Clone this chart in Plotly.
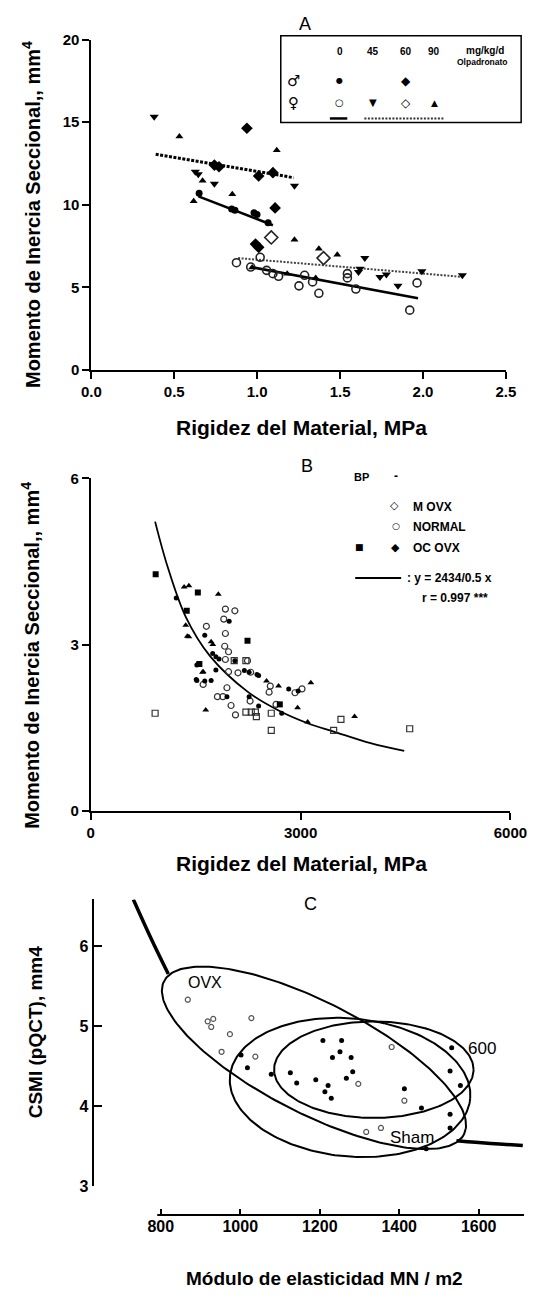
import numpy as np
import plotly.graph_objects as go

W, H = 541, 1299
FONT = "Liberation Sans, Arial, DejaVu Sans, sans-serif"
SYM = "DejaVu Sans"

# ---------------- Panel A data ----------------
A_xticks = [0.0, 0.5, 1.0, 1.5, 2.0, 2.5]
A_yticks = [0, 5, 10, 15, 20]

A_m0_x = [0.65, 0.846, 0.866, 0.981, 0.999, 1.066]
A_m0_y = [10.70, 9.75, 9.67, 9.51, 9.41, 8.91]
A_m60_x = [0.938, 0.742, 0.770, 1.009, 1.095, 1.108, 0.99, 1.009]
A_m60_y = [14.63, 12.40, 12.30, 11.74, 11.94, 9.81, 7.62, 7.42]
A_f0_x = [0.875, 0.961, 1.018, 1.057, 1.095, 1.129, 1.286, 1.252, 1.334, 1.372,
          1.544, 1.544, 1.595, 1.964, 1.920]
A_f0_y = [6.49, 6.23, 6.82, 6.03, 5.83, 5.67, 5.73, 5.09, 5.33, 4.64,
          5.83, 5.57, 4.90, 5.27, 3.62]
A_f45_x = [0.379, 0.627, 0.645, 0.742, 1.225, 1.649, 1.74, 1.779, 1.849, 1.993,
           2.237, 1.62, 1.611]
A_f45_y = [15.33, 12.0, 11.85, 11.27, 11.15, 6.77, 5.63, 5.77, 5.09, 5.97,
           5.73, 6.13, 5.93]
A_f60_x = [1.085, 1.40]
A_f60_y = [8.02, 6.77]
A_f90_x = [0.531, 1.118, 0.671, 0.850, 0.617, 1.225, 1.372, 1.483, 0.97, 1.181, 1.353]
A_f90_y = [14.13, 13.30, 11.46, 10.64, 10.21, 7.88, 7.33, 6.97, 6.2, 5.83, 5.57]

A_fit_m0_x = [0.646, 1.095]
A_fit_m0_y = [10.51, 8.76]
A_fit_m60_x = [0.388, 1.219]
A_fit_m60_y = [13.06, 11.64]
A_fit_f0_x = [0.961, 1.97]
A_fit_f0_y = [6.23, 4.34]
A_fit_ftrt_x = [0.885, 2.241]
A_fit_ftrt_y = [6.77, 5.63]

# ---------------- Panel B data ----------------
B_xticks = [0, 3000, 6000]
B_yticks = [0, 3, 6]

B_ocbp_x = [928, 1531, 1372, 2241, 1553, 2703]
B_ocbp_y = [4.27, 3.94, 3.61, 3.07, 2.65, 1.92]
B_tri_x = [1335, 1403, 1824, 1358, 1381, 1403, 1721, 1745, 1607, 1598, 2513, 2685,
           3147, 2957, 3101, 3772, 1644]
B_tri_y = [4.04, 4.06, 3.91, 3.35, 3.15, 3.14, 3.05, 3.00, 2.51, 2.50, 2.34, 2.25,
           2.31, 1.86, 1.60, 1.70, 1.82]
B_oc_x = [1222, 1979, 1630, 1743, 1789, 1834, 2060, 2377, 1789, 1540, 1517, 1630,
          1721, 2196, 2264, 2400, 1947, 2264, 2400, 2730, 2830, 2965, 1517, 1508]
B_oc_y = [3.84, 3.42, 3.17, 2.84, 2.78, 2.74, 2.71, 2.46, 2.54, 2.65, 2.35, 2.34,
          2.35, 2.53, 2.50, 2.44, 2.06, 2.06, 1.89, 1.76, 2.20, 2.16, 2.63, 2.37]
B_norm_x = [1925, 2060, 1902, 1653, 1925, 1915, 1970, 1925, 2241, 2286, 1970, 2105,
            1607, 1947, 2550, 2567, 1811, 1890, 2006, 2069, 2278, 2920, 3020, 2649]
B_norm_y = [3.64, 3.61, 3.46, 3.33, 3.20, 2.97, 2.87, 2.73, 2.71, 2.50, 2.51, 2.49,
            2.28, 2.22, 2.14, 2.25, 2.06, 2.06, 1.90, 1.73, 1.98, 2.13, 2.20, 1.92]
B_movx_x = [920, 2051, 2218, 2218, 2295, 2354, 2368, 2581, 2581, 3473, 3577, 4560]
B_movx_y = [1.76, 2.71, 2.71, 1.78, 1.78, 1.78, 1.70, 1.76, 1.45, 1.45, 1.65, 1.48]

B_curve_x = [920, 1100, 1358, 1700, 2241, 2700, 3101, 3473, 4000, 4482]
B_curve_y = [5.22, 4.40, 3.50, 2.80, 2.15, 1.80, 1.58, 1.43, 1.22, 1.08]

# ---------------- Panel C data ----------------
C_xticks = [800, 1000, 1200, 1400, 1600]
C_yticks = [3, 4, 5, 6]

C_open_x = [868, 918, 932, 927, 974, 1028, 953, 1038, 1381, 1297, 1413, 1317, 1354]
C_open_y = [5.33, 5.06, 5.09, 4.99, 4.90, 5.10, 4.68, 4.62, 4.74, 4.28, 4.07, 3.68, 3.73]
C_fill_x = [1002, 1018, 1078, 1126, 1142, 1190, 1208, 1255, 1251, 1232, 1279, 1283,
            1267, 1221, 1213, 1229, 1413, 1456, 1532, 1528, 1554, 1528, 1528, 1468]
C_fill_y = [4.64, 4.48, 4.40, 4.42, 4.29, 4.33, 4.82, 4.82, 4.68, 4.61, 4.61, 4.43,
            4.35, 4.26, 4.18, 4.10, 4.22, 3.98, 4.73, 4.44, 4.26, 3.90, 3.73, 3.47]

C_curve_x = [731, 775, 819, None, 1544, 1592, 1652, 1711]
C_curve_y = [6.58, 6.10, 5.65, None, 3.57, 3.55, 3.53, 3.51]

C_ell_name = ["OVX", "Sham", "600"]
C_ell_cx = [1185.5, 1276.3, 1336.1]
C_ell_cy = [4.605, 4.235, 4.457]
C_ell_a = [420.6, 303.5, 251.0]
C_ell_b = [136.0, 167.3, 117.0]
C_ell_ang = [-26.0, -5.0, 0.0]


def px(v):
    return v / W


def py(v):
    return 1 - v / H


fig = go.Figure()


def sc(x, y, ax, **kw):
    fig.add_trace(go.Scatter(x=x, y=y, xaxis="x" + ax, yaxis="y" + ax,
                             showlegend=False, hoverinfo="skip", **kw))


# Panel A
sc(A_fit_m0_x, A_fit_m0_y, "", mode="lines", line=dict(color="black", width=2.5))
sc(A_fit_m60_x, A_fit_m60_y, "", mode="lines", line=dict(color="black", width=3, dash="3px,1.5px"))
sc(A_fit_f0_x, A_fit_f0_y, "", mode="lines", line=dict(color="black", width=2.5))
sc(A_fit_ftrt_x, A_fit_ftrt_y, "", mode="lines", line=dict(color="#444", width=2, dash="2px,1.5px"))
sc(A_m0_x, A_m0_y, "", mode="markers", marker=dict(symbol="circle", size=7, color="black"))
sc(A_m60_x, A_m60_y, "", mode="markers", marker=dict(symbol="diamond", size=9, color="black"))
sc(A_f0_x, A_f0_y, "", mode="markers",
   marker=dict(symbol="circle-open", size=8, color="#222", line=dict(width=1.6)))
sc(A_f45_x, A_f45_y, "", mode="markers", marker=dict(symbol="triangle-down", size=8, color="black"))
sc(A_f60_x, A_f60_y, "", mode="markers",
   marker=dict(symbol="diamond-open", size=10, color="#222", line=dict(width=1.6)))
sc(A_f90_x, A_f90_y, "", mode="markers", marker=dict(symbol="triangle-up", size=7, color="black"))

# Panel B
sc(B_curve_x, B_curve_y, "2", mode="lines", line=dict(color="black", width=1.8, shape="spline"))
sc(B_movx_x, B_movx_y, "2", mode="markers",
   marker=dict(symbol="square-open", size=6, color="#333", line=dict(width=1.2)))
sc(B_norm_x, B_norm_y, "2", mode="markers",
   marker=dict(symbol="circle-open", size=6, color="#333", line=dict(width=1.2)))
sc(B_oc_x, B_oc_y, "2", mode="markers", marker=dict(symbol="circle", size=5, color="black"))
sc(B_tri_x, B_tri_y, "2", mode="markers", marker=dict(symbol="triangle-up", size=6, color="black"))
sc(B_ocbp_x, B_ocbp_y, "2", mode="markers", marker=dict(symbol="square", size=6, color="black"))

# Panel C
sc(C_curve_x, C_curve_y, "3", mode="lines", line=dict(color="black", width=3.5, shape="spline"),
   connectgaps=False)
K = 81.3 / 0.4184
t = np.linspace(0, 2 * np.pi, 241)
for cx, cy, a, b, ang in zip(C_ell_cx, C_ell_cy, C_ell_a, C_ell_b, C_ell_ang):
    r = np.deg2rad(ang)
    X = a * np.cos(t)
    Y = b * np.sin(t)
    ex = cx + X * np.cos(r) - Y * np.sin(r)
    ey = cy + (X * np.sin(r) + Y * np.cos(r)) / K
    sc(ex, ey, "3", mode="lines", line=dict(color="black", width=2))
sc(C_open_x, C_open_y, "3", mode="markers",
   marker=dict(symbol="circle-open", size=5, color="#555", line=dict(width=1.2)))
sc(C_fill_x, C_fill_y, "3", mode="markers", marker=dict(symbol="circle", size=5, color="black"))

tickfont = dict(family=FONT, size=15, color="black", weight="bold")
base = dict(showline=True, linecolor="black", linewidth=2, ticks="outside", ticklen=7,
            tickwidth=2, tickcolor="black", showgrid=False, zeroline=False,
            tickfont=tickfont, fixedrange=True)

layout = dict(
    width=W, height=H, margin=dict(l=0, r=0, t=0, b=0),
    paper_bgcolor="white", plot_bgcolor="rgba(0,0,0,0)", showlegend=False,
    xaxis=dict(base, domain=[px(85.6), px(522)], range=[0, 2.5], anchor="y",
               tickvals=A_xticks, ticktext=["%.1f" % v for v in A_xticks]),
    yaxis=dict(base, domain=[py(366), py(31)], range=[0, 20], anchor="x",
               tickvals=A_yticks),
    xaxis2=dict(base, domain=[px(85), px(526.7)], range=[0, 6000], anchor="y2",
                tickvals=B_xticks, ticktext=[str(v) for v in B_xticks]),
    yaxis2=dict(base, domain=[py(813), py(476)], range=[0, 6], anchor="x2",
                tickvals=B_yticks),
    xaxis3=dict(base, domain=[px(88), 1.0], range=[631, 1714], anchor="free",
                position=py(1223), showline=False, ticks="inside", ticklen=6,
                tickvals=C_xticks, tickfont=dict(tickfont, size=16)),
    yaxis3=dict(base, domain=[py(1194), py(903)], range=[3, 6.58], anchor="x3",
                ticks="inside", ticklen=8, tickvals=C_yticks,
                tickfont=dict(tickfont, size=16)),
)


def ann(text, x, y, size, bold=False, xanchor="center", angle=0, color="black", family=FONT):
    return dict(text=text, x=px(x), y=py(y), xref="paper", yref="paper", showarrow=False,
                xanchor=xanchor, yanchor="middle", textangle=angle,
                font=dict(family=family, size=size, color=color,
                          weight="bold" if bold else "normal"))


def sym(text, x, y, size):
    return ann(text, x, y, size, family=SYM)


ytitle = "Momento de Inercia Seccional,, mm<sup>4</sup>"
xtitle = "Rigidez del Material, MPa"
annotations = [
    # Panel A
    ann("A", 310, 15, 18),
    ann(xtitle, 307, 424, 21, bold=True),
    ann(ytitle, 22, 208, 20, bold=True, angle=-90),
    ann("0", 347, 43, 10, bold=True), ann("45", 381.7, 43, 10, bold=True),
    ann("60", 416.7, 43, 10, bold=True), ann("90", 446.7, 43, 10, bold=True),
    ann("mg/kg/d", 500, 42, 10, bold=True), ann("Olpadronato", 497, 53.5, 8.5, bold=True),
    sym("♂", 298, 73, 15), sym("♀", 298, 95, 15),
    sym("●", 347, 73, 8), sym("◆", 416.7, 73, 12),
    sym("○", 347, 95, 10), sym("▼", 381.7, 95, 10), sym("◇", 416.7, 95, 12),
    sym("▲", 446.7, 95, 9),
    # Panel B
    ann("B", 313, 463, 18),
    ann(xtitle, 307, 867, 21, bold=True),
    ann(ytitle, 22, 655, 20, bold=True, angle=-90),
    ann("BP", 370, 475, 11, bold=True), ann("-", 406, 474, 12, bold=True),
    sym("◇", 405, 503, 11), ann("M OVX", 421.7, 505, 12, bold=True, xanchor="left"),
    sym("○", 406, 524, 9), ann("NORMAL", 421.7, 525, 12, bold=True, xanchor="left"),
    sym("■", 368.3, 546, 9), sym("◆", 406, 546, 11),
    ann("OC OVX", 421.7, 547, 12, bold=True, xanchor="left"),
    ann(": y = 2434/0.5 x", 416, 577, 12, bold=True, xanchor="left"),
    ann("r = 0.997 ***", 431.7, 597, 12, bold=True, xanchor="left"),
    # Panel C
    ann("C", 316.7, 908, 18),
    ann("OVX", 205.7, 987, 16), ann("600", 497, 1054, 17), ann("Sham", 422.7, 1144, 17),
    ann("CSMI (pQCT), mm4", 27, 1038, 19, bold=True, angle=-90),
    ann("Módulo de elasticidad MN / m2", 331, 1287, 19, bold=True),
]

shapes = [
    dict(type="rect", xref="paper", yref="paper", x0=px(285), x1=px(538), y0=py(115),
         y1=py(27), line=dict(color="black", width=1.5)),
    dict(type="line", xref="paper", yref="paper", x0=px(336.7), x1=px(355), y0=py(111),
         y1=py(111), line=dict(color="black", width=2.5)),
    dict(type="line", xref="paper", yref="paper", x0=px(373), x1=px(456.7), y0=py(111),
         y1=py(111), line=dict(color="#333", width=2, dash="2px,1.5px")),
    dict(type="line", xref="paper", yref="paper", x0=px(363.3), x1=px(411.7), y0=py(577),
         y1=py(577), line=dict(color="black", width=1.8)),
    dict(type="line", xref="paper", yref="paper", x0=px(155), x1=1.0, y0=py(1223),
         y1=py(1223), line=dict(color="black", width=2)),
]

fig.update_layout(**layout, annotations=annotations, shapes=shapes)
fig.write_html("out.html", config={"displayModeBar": False})
